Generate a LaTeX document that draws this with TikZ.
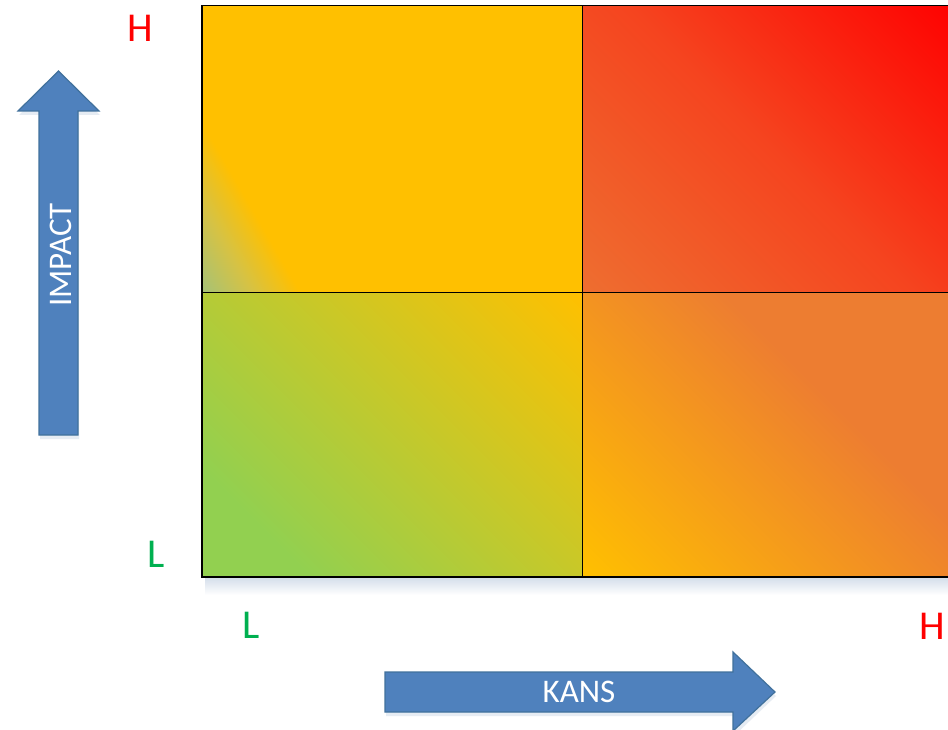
\documentclass[tikz,border=0pt]{standalone}
\usepackage{fontspec}
\setmainfont{Carlito}
\definecolor{gold}{HTML}{FFC000}
\definecolor{lgreen}{HTML}{92D050}
\definecolor{tlg}{HTML}{A8C274}
\definecolor{tlmid}{HTML}{D6C244}
\definecolor{orng}{HTML}{ED7D31}
\definecolor{trlo}{HTML}{EE6E30}
\definecolor{trmid}{HTML}{F5441F}
\definecolor{red1}{HTML}{FF0000}
\definecolor{arrowfill}{HTML}{4F81BD}
\definecolor{arrowline}{HTML}{41719C}
\definecolor{lblgreen}{HTML}{00B050}
\definecolor{shadowc}{HTML}{D3DDEA}
\pgfdeclarehorizontalshading{tlshade}{100bp}{color(0bp)=(tlg); color(16bp)=(tlg); color(22bp)=(tlmid); color(28bp)=(gold); color(100bp)=(gold)}
\pgfdeclarehorizontalshading{blshade}{100bp}{color(0bp)=(lgreen); color(26bp)=(lgreen); color(85.4bp)=(gold); color(100bp)=(gold)}
\pgfdeclarehorizontalshading{trshade}{100bp}{color(0bp)=(trlo); color(14.6bp)=(trlo); color(50bp)=(trmid); color(85.4bp)=(red1); color(100bp)=(red1)}
\pgfdeclarehorizontalshading{brshade}{100bp}{color(0bp)=(gold); color(14.6bp)=(gold); color(60bp)=(orng); color(100bp)=(orng)}
\tikzset{
  gridline/.style={draw=black, line width=1pt},
  bigarrow/.style={fill=arrowfill, draw=arrowline, line width=1.2pt, line join=miter},
  arrowshadow/.style={fill=shadowc, opacity=0.55},
  axistext/.style={text=white, font=\fontsize{33}{33}\selectfont, inner sep=0pt},
  hlabel/.style={text=red1, font=\fontsize{41}{41}\selectfont, inner sep=0pt, anchor=base},
  llabel/.style={text=lblgreen, font=\fontsize{41}{41}\selectfont, inner sep=0pt, anchor=base}
}
\begin{document}
\begin{tikzpicture}[x=1pt, y=-1pt]
\useasboundingbox (0,0) rectangle (948,730);
\fill[white] (0,0) rectangle (948,730);
\begin{scope}
\clip (0,0) rectangle (948,730);
% grid shadow
\shade[top color=shadowc, bottom color=white] (205,577) rectangle (962,595);
% cells
\shade[shading=tlshade, shading angle=30] (202,5.5) rectangle (582,292);
\shade[shading=trshade, shading angle=45] (582,5.5) rectangle (962,292);
\shade[shading=blshade, shading angle=45] (202,292) rectangle (582,577);
\shade[shading=brshade, shading angle=45] (582,292) rectangle (962,577);
% grid lines
\draw[gridline, line width=1.3pt] (962,5.5) -- (202,5.5) -- (202,577) -- (962,577);
\draw[gridline] (582,5.5) -- (582,577);
\draw[gridline] (202,292) -- (962,292);
% arrow shadows
\fill[arrowshadow] (40,439) -- (40,115) -- (19,115) -- (59.5,75) -- (100,115) -- (79,115) -- (79,439) -- cycle;
\fill[arrowshadow] (386,676) -- (734,676) -- (734,656) -- (776,696) -- (734,736) -- (734,716) -- (386,716) -- cycle;
% arrows
\draw[bigarrow] (39,435) -- (39,111) -- (18,111) -- (58.5,71) -- (99,111) -- (78,111) -- (78,435) -- cycle;
\draw[bigarrow] (385,672) -- (733,672) -- (733,652) -- (775,692) -- (733,731) -- (733,712) -- (385,712) -- cycle;
\end{scope}
% texts
\node[axistext, rotate=90, anchor=base] (impact) at (71,255) {IMPACT};
\node[axistext, anchor=base] (kans) at (579,702) {KANS};
\node[hlabel] (hy) at (140.5,42) {H};
\node[llabel] (ly) at (156,567) {L};
\node[llabel] (lx) at (251,638) {L};
\node[hlabel] (hx) at (932,639) {H};
\end{tikzpicture}
\end{document}
